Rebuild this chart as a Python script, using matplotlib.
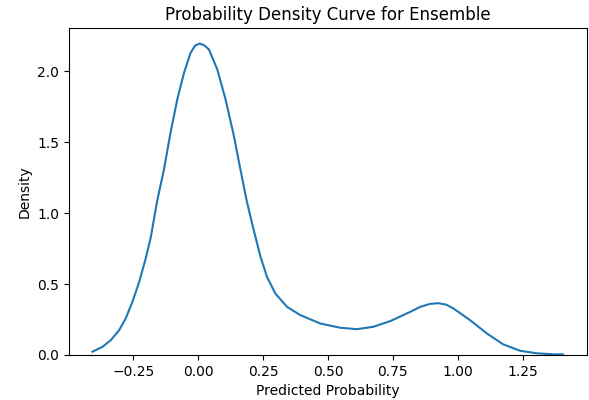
import matplotlib
matplotlib.use("Agg")
import matplotlib.pyplot as plt

# density curve (x = predicted probability, y = density)
prob = [-0.408, -0.369, -0.337, -0.305, -0.280, -0.254, -0.228, -0.203, -0.183,
        -0.159, -0.132, -0.107, -0.081, -0.055, -0.030, -0.012, 0.006, 0.024,
        0.041, 0.073, 0.105, 0.137, 0.163, 0.187, 0.214, 0.240, 0.265, 0.297,
        0.342, 0.393, 0.470, 0.547, 0.612, 0.675, 0.740, 0.817, 0.855, 0.893,
        0.925, 0.955, 0.983, 1.047, 1.112, 1.175, 1.240, 1.304, 1.368, 1.406]
density = [0.023, 0.058, 0.105, 0.175, 0.257, 0.374, 0.514, 0.678, 0.830,
           1.082, 1.310, 1.567, 1.801, 1.988, 2.128, 2.180, 2.194, 2.180,
           2.152, 2.012, 1.801, 1.544, 1.300, 1.082, 0.877, 0.690, 0.549, 0.433,
           0.339, 0.281, 0.222, 0.192, 0.182, 0.199, 0.239, 0.304, 0.339, 0.360,
           0.365, 0.355, 0.328, 0.246, 0.152, 0.075, 0.030, 0.012, 0.005, 0.004]

fig = plt.figure(figsize=(5.89, 4.0), dpi=100)
ax = fig.add_axes([0.117, 0.1125, 0.879, 0.8175])

ax.plot(prob, density, color='#1f77b4', lw=1.5)
ax.set_ylim(0, None)
ax.set_xticks([-0.25, 0.0, 0.25, 0.5, 0.75, 1.0, 1.25])

ax.set_title('Probability Density Curve for Ensemble')
ax.set_xlabel('Predicted Probability')
ax.set_ylabel('Density')

fig.savefig('out.png', dpi=100)
